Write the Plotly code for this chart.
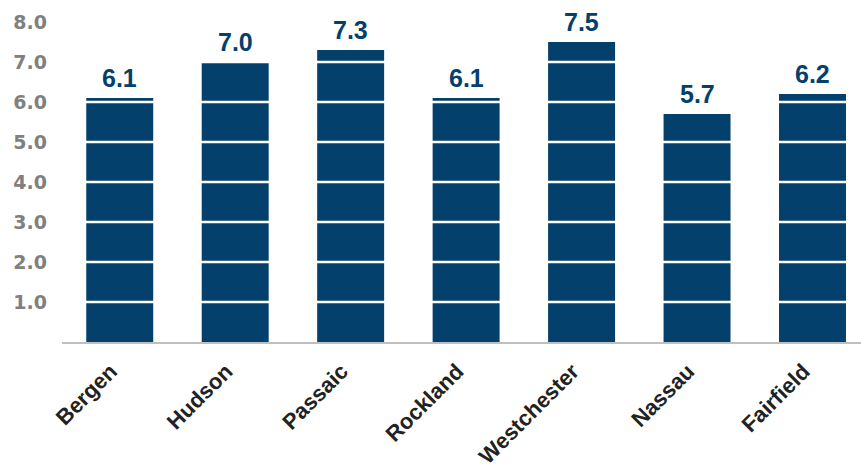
import plotly.graph_objects as go

counties = ["Bergen", "Hudson", "Passaic", "Rockland", "Westchester", "Nassau", "Fairfield"]
values = [6.1, 7.0, 7.3, 6.1, 7.5, 5.7, 6.2]
tick_vals = [1, 2, 3, 4, 5, 6, 7, 8]
tick_text = ["1.0", "2.0", "3.0", "4.0", "5.0", "6.0", "7.0", "8.0"]

bar_color = "#04406C"

fig = go.Figure()
fig.add_trace(go.Bar(
    x=counties, y=values,
    marker=dict(color=bar_color, line=dict(width=0)),
))

for t in tick_vals:
    fig.add_shape(type="line", xref="paper", yref="y", x0=0, x1=1, y0=t, y1=t,
                  line=dict(color="white", width=2.5), layer="above")

for c, v in zip(counties, values):
    fig.add_annotation(x=c, y=v, text=f"{v:.1f}", showarrow=False,
                       yanchor="bottom", yshift=4,
                       font=dict(family="Liberation Sans", size=25, color=bar_color, weight="bold"))

fig.update_layout(
    width=861, height=470,
    margin=dict(l=62, r=0, t=14, b=128),
    plot_bgcolor="white", paper_bgcolor="white",
    bargap=0.42,
    showlegend=False,
    xaxis=dict(
        range=[-0.5, 6.42],
        tickangle=-45,
        tickfont=dict(family="Liberation Sans", size=22, color="#222222", weight="bold"),
        showline=True, linecolor="#BFBFBF", linewidth=1.5,
        ticks="", showgrid=False,
        ticklabelshift=-9, ticklabelstandoff=6,
        automargin=False,
    ),
    yaxis=dict(
        range=[0, 8.2],
        tickvals=tick_vals, ticktext=tick_text,
        tickfont=dict(family="DejaVu Sans", size=19, color="#808080", weight="bold"),
        showgrid=False, zeroline=False, showline=False,
        ticks="", ticklabelstandoff=14,
        automargin=False,
    ),
)

fig.write_html("out.html")
